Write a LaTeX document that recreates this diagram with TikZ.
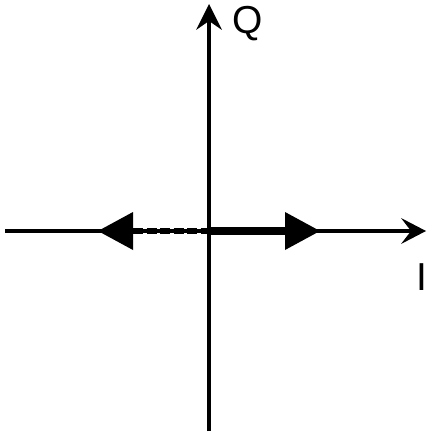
\documentclass[tikz,border=0pt]{standalone}
\usepackage{fontspec}
\setmainfont{Liberation Sans}
\begin{document}
\begin{tikzpicture}[x=1pt,y=-1pt,
  axis/.style={line width=3.6pt},
  lbl/.style={font=\fontsize{39}{39}\selectfont,inner sep=0pt},
  vec/.style={line width=7.5pt},
  dvec/.style={line width=5.5pt,dash pattern=on 10pt off 3.5pt}]
\useasboundingbox (0,0) rectangle (426,433);
\coordinate (xl) at (5,231);
\coordinate (xr) at (420,231);
\coordinate (yb) at (209,431);
\coordinate (yt) at (209,10);
\coordinate (o) at (209,231);
\draw[axis] (xl) -- (xr);
\draw[axis] (yb) -- (yt);
\fill (209,4) -- (196,30) -- (209,21) -- (222,30) -- cycle;
\fill (426,231) -- (401,218) -- (411,231) -- (401,244) -- cycle;
\node[lbl] (q) at (248,24) {Q};
\node[lbl] (i) at (422,277) {I};
\coordinate (rb) at (285,231);
\coordinate (rt) at (320,231);
\coordinate (lb) at (133,231);
\coordinate (lt) at (98,231);
\draw[vec] (o) -- (rb);
\fill (rt) -- (rb |- 0,212) -- (rb |- 0,250) -- cycle;
\draw[dvec] (lb) -- (o);
\fill (lt) -- (lb |- 0,212) -- (lb |- 0,250) -- cycle;
\end{tikzpicture}
\end{document}
